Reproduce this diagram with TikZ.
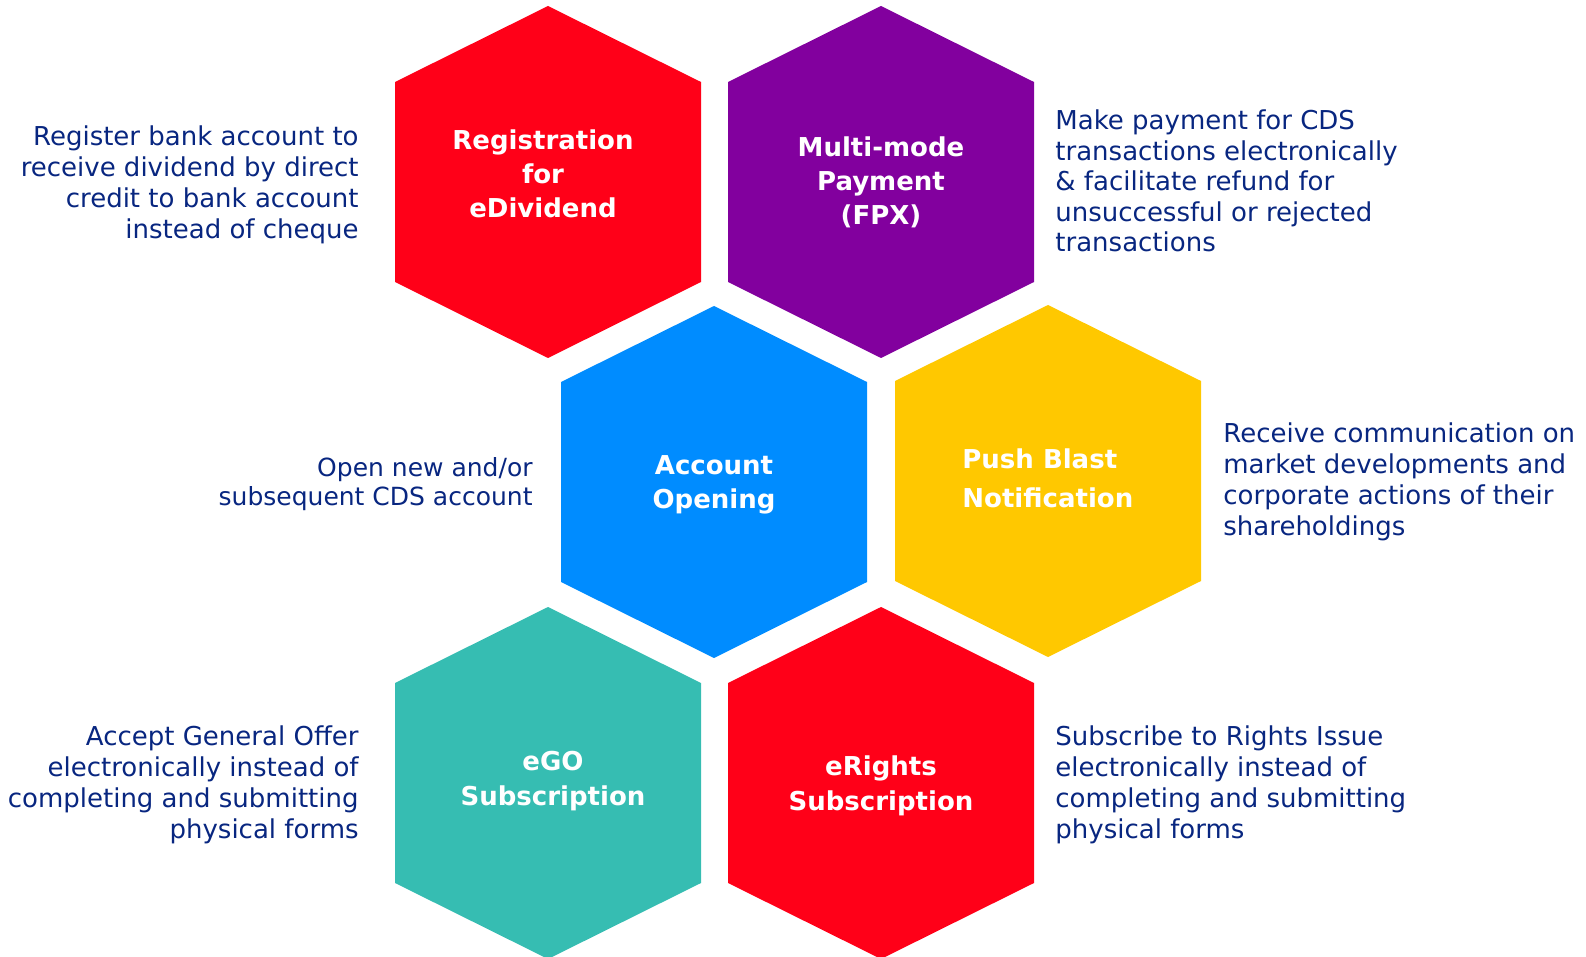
\documentclass[tikz,border=0pt]{standalone}
\usepackage{fontspec}
\setmainfont{DejaVu Sans}
\definecolor{hred}{RGB}{255,0,24}
\definecolor{hpurple}{RGB}{130,0,158}
\definecolor{hblue}{RGB}{0,140,255}
\definecolor{hyellow}{RGB}{255,200,0}
\definecolor{hteal}{RGB}{54,189,178}
\definecolor{navy}{RGB}{8,38,128}
\newcommand\hexshape[3]{\fill[#3] (#1,#2) ++(0,-176) -- ++(153,76) -- ++(0,200) -- ++(-153,76) -- ++(-153,-76) -- ++(0,-200) -- cycle;}
\tikzset{
  desc/.style={text=navy, inner sep=0pt, font=\fontsize{13}{15.5}\selectfont},
  descr/.style={desc, align=right, anchor=base east},
  descl/.style={desc, align=left, anchor=base west},
  hexlabel/.style={text=white, inner sep=0pt, align=center, anchor=base, font=\bfseries\fontsize{13}{17}\selectfont},
}
\begin{document}
\begin{tikzpicture}[x=0.5pt,y=-0.5pt]
\path[use as bounding box] (0,0) rectangle (1586,957);
\hexshape{548}{182}{hred}
\hexshape{881}{182}{hpurple}
\hexshape{714}{482}{hblue}
\hexshape{1048}{481}{hyellow}
\hexshape{548}{783}{hteal}
\hexshape{881}{783}{hred}
\node[hexlabel] (l1) at (543,218) {Registration\\for\\eDividend};
\node[hexlabel] (l2) at (881,225) {Multi-mode\\Payment\\(FPX)};
\node[hexlabel] (l3) at (714,508.5) {Account\\Opening};
\node[hexlabel, align=left, anchor=base west, font=\bfseries\fontsize{13}{19.5}\selectfont] (l4) at (962,507) {Push Blast\\Notification};
\node[hexlabel, font=\bfseries\fontsize{13}{17.5}\selectfont] (l5) at (553,805) {eGO\\Subscription};
\node[hexlabel, font=\bfseries\fontsize{13}{17.5}\selectfont] (l6) at (881,810.5) {eRights\\Subscription};
\node[descr] (t1) at (359,238.5) {Register bank account to\\receive dividend by direct\\credit to bank account\\instead of cheque};
\node[descl, font=\fontsize{13}{15.25}\selectfont] (t2) at (1055,252) {Make payment for CDS\\transactions electronically\\\& facilitate refund for\\unsuccessful or rejected\\transactions};
\node[descr, font=\fontsize{12.5}{14.2}\selectfont] (t3) at (533,505) {Open new and/or\\subsequent CDS account};
\node[descl] (t4) at (1223,535) {Receive communication on\\market developments and\\corporate actions of their\\shareholdings};
\node[descr] (t5) at (359,838) {Accept General Offer\\electronically instead of\\completing and submitting\\physical forms};
\node[descl] (t6) at (1055,838) {Subscribe to Rights Issue\\electronically instead of\\completing and submitting\\physical forms};
\end{tikzpicture}
\end{document}
